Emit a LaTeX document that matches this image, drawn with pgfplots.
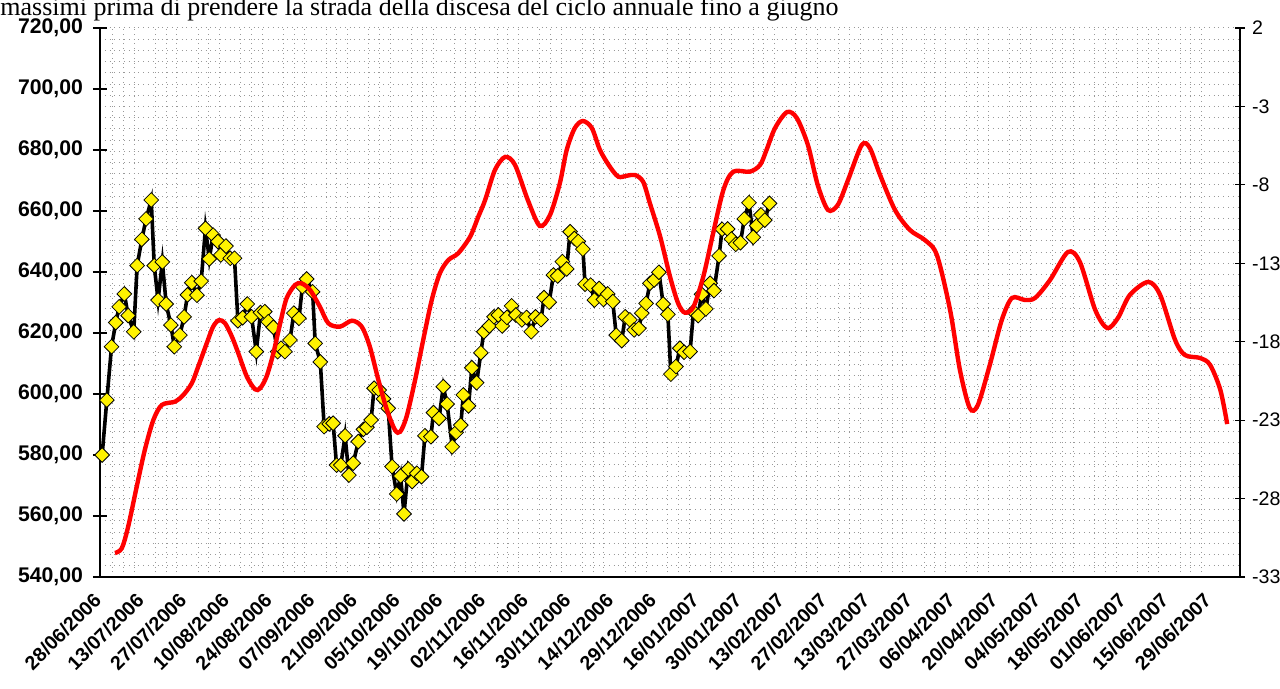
\documentclass[border=0pt]{standalone}
\usepackage{fontspec}
\setmainfont{Liberation Serif}
\newfontfamily\arial{Liberation Sans}
\usepackage{pgfplots}
\pgfplotsset{compat=1.18}
\begin{document}
\begin{tikzpicture}[x=1pt,y=1pt]
\begin{axis}[
  scale only axis, width=570pt, height=274.5pt,
  at={(0,0)}, anchor=south west,
  xmin=-0.5, xmax=266.5, ymin=540, ymax=720,
  axis x line=bottom, axis y line=left,
  axis line style={-, line width=1pt, black},
  xtick={0,10,...,260},
  xticklabels={28/06/2006,13/07/2006,27/07/2006,10/08/2006,24/08/2006,07/09/2006,21/09/2006,05/10/2006,19/10/2006,02/11/2006,16/11/2006,30/11/2006,14/12/2006,29/12/2006,16/01/2007,30/01/2007,13/02/2007,27/02/2007,13/03/2007,27/03/2007,06/04/2007,20/04/2007,04/05/2007,18/05/2007,01/06/2007,15/06/2007,29/06/2007},
  x tick label style={font=\arial\bfseries\fontsize{9.8}{12}\selectfont, rotate=45, anchor=north east, inner sep=1pt, xshift=-5pt, yshift=2pt},
  x tick style={draw=none},
  minor x tick num=3,
  ytick={540,560,...,720},
  minor ytick={540,543.6735,...,720},
  y tick label style={font=\arial\bfseries\fontsize{10.6}{12}\selectfont, xshift=-1.5pt},
  yticklabel style={/pgf/number format/fixed, /pgf/number format/fixed zerofill, /pgf/number format/precision=2, /pgf/number format/use comma, /pgf/number format/1000 sep={}, /pgf/number format/assume math mode=true},
  y tick style={black, line width=0.8pt},
  major tick length=7pt, minor tick length=0pt, tick align=center,
  grid=minor,
  minor grid style={dotted, black!40, line width=0.5pt},
]
\addplot[black, line width=1.8pt, mark=square*, mark size=2.6pt, mark options={rotate=45, fill=yellow, draw=black, line width=0.4pt, solid}] coordinates {
(0.0,580.0)(1.1,598.0)(2.2,615.5)(3.2,623.4)(4.0,628.6)(5.2,632.8)(6.1,625.7)(7.4,620.4)(8.2,642.1)(9.3,650.7)
(10.3,657.4)(11.5,663.6)(12.2,642.1)(13.1,630.8)(14.1,643.3)(15.0,629.5)(16.1,622.6)(16.9,615.5)(18.2,619.3)(19.2,625.3)
(20.0,632.5)(21.0,636.5)(22.2,632.4)(23.2,637.0)(24.2,654.3)(25.1,644.3)(26.0,652.1)(27.1,650.0)(27.8,645.6)(29.0,648.5)
(30.0,644.5)(31.0,644.5)(31.8,624.0)(32.9,625.0)(34.0,629.5)(35.0,625.3)(36.1,613.9)(37.1,626.7)(38.1,627.0)(38.9,623.7)
(40.1,621.9)(41.1,613.9)(41.9,615.0)(42.8,613.9)(44.0,617.7)(44.9,626.5)(46.1,624.8)(46.9,635.2)(47.9,637.7)(49.3,633.5)
(49.9,616.6)(51.1,610.5)(52.0,589.3)(53.2,590.2)(54.1,590.4)(54.9,576.7)(55.9,576.7)(56.9,586.3)(57.8,573.4)(58.8,577.3)
(60.0,584.4)(61.2,588.4)(62.0,589.1)(63.0,591.5)(63.7,601.9)(64.9,601.3)(65.9,598.4)(67.0,595.3)(67.9,576.2)(69.0,567.2)
(69.9,573.1)(70.7,560.7)(71.7,575.4)(72.6,571.3)(73.7,574.0)(74.8,572.9)(75.6,586.3)(77.0,586.0)(77.6,593.9)(78.9,592.0)
(79.9,602.4)(80.8,596.7)(82.0,582.7)(82.9,587.4)(84.0,589.8)(84.6,599.7)(85.8,596.1)(86.6,608.6)(87.7,603.7)(88.7,613.5)
(89.4,620.4)(90.7,622.3)(91.8,625.3)(92.8,625.9)(93.7,622.3)(94.8,625.1)(95.9,628.9)(96.9,625.9)(98.3,624.3)(99.4,625.1)
(100.5,620.4)(101.5,625.3)(102.8,624.4)(103.5,631.6)(104.7,630.1)(105.7,639.0)(106.7,638.7)(107.8,643.4)(108.8,641.0)(109.6,653.2)
(110.6,651.0)(111.5,650.0)(112.6,647.5)(113.1,636.0)(114.4,635.7)(115.3,630.8)(116.4,634.6)(117.4,631.0)(118.4,632.8)(119.6,630.3)
(120.4,619.3)(121.7,617.5)(122.5,625.3)(123.6,624.3)(124.6,621.0)(125.7,621.5)(126.4,626.5)(127.4,629.7)(128.3,636.3)(129.3,637.4)
(130.4,639.9)(131.4,629.5)(132.5,626.1)(133.2,606.5)(134.4,609.0)(135.3,615.0)(136.3,613.7)(137.7,613.9)(138.5,627.0)(139.6,625.7)
(140.4,632.7)(141.4,627.9)(142.4,636.3)(143.3,633.9)(144.5,645.3)(145.2,654.0)(146.5,654.1)(147.4,650.8)(148.4,649.1)(149.5,649.6)
(150.4,657.4)(151.5,662.7)(152.5,651.4)(153.3,655.2)(154.3,658.7)(155.2,657.0)(156.3,662.5)
};
\end{axis}
\begin{axis}[
  scale only axis, width=570pt, height=274.5pt,
  at={(0,0)}, anchor=south west,
  xmin=-0.5, xmax=266.5, ymin=-33, ymax=2,
  axis x line=none, axis y line=right,
  axis line style={-, line width=1pt, black},
  ytick={-33,-28,...,2},
  y tick label style={font=\arial\fontsize{9.8}{11}\selectfont, /pgf/number format/assume math mode=true},
  y tick style={black, line width=0.6pt},
  major tick length=5pt, tick align=center,
]
\addplot[red, line width=2.2pt, smooth] coordinates {
(3.0,-31.47)(4.6,-31.17)(6.1,-29.79)(8.1,-27.24)(10.0,-24.90)(12.0,-22.99)(14.0,-22.03)(17.1,-21.82)(19.0,-21.40)(21.0,-20.65)
(22.5,-19.59)(24.5,-18.10)(26.0,-17.04)(27.4,-16.62)(28.8,-16.83)(30.4,-17.68)(31.9,-18.74)(33.9,-20.23)(35.8,-21.03)(37.0,-20.97)
(38.5,-20.23)(40.1,-18.74)(41.7,-16.83)(43.2,-15.23)(45.2,-14.38)(46.7,-14.28)(48.7,-14.70)(51.0,-15.77)(53.0,-16.83)(55.7,-17.04)
(58.5,-16.66)(60.8,-17.04)(62.7,-18.32)(64.7,-20.44)(66.7,-22.35)(68.6,-23.63)(69.8,-23.74)(71.3,-22.78)(73.3,-20.44)(75.2,-17.89)
(77.2,-15.34)(79.1,-13.64)(81.1,-12.79)(83.4,-12.36)(86.2,-11.30)(88.1,-10.03)(89.7,-8.97)(92.0,-7.05)(94.4,-6.22)(96.7,-6.73)
(99.7,-8.97)(102.5,-10.62)(104.9,-9.92)(107.2,-7.90)(108.8,-5.78)(110.7,-4.38)(112.6,-3.93)(114.7,-4.38)(116.6,-5.78)(118.9,-6.84)
(120.9,-7.48)(122.9,-7.42)(124.8,-7.37)(126.7,-7.80)(128.3,-9.18)(130.7,-11.30)(133.0,-13.85)(134.9,-15.55)(136.5,-16.15)(138.5,-15.77)
(140.8,-13.85)(143.1,-11.09)(145.5,-8.33)(147.8,-7.16)(151.7,-7.16)(154.1,-6.73)(155.6,-5.78)(157.6,-4.38)(160.4,-3.36)(162.7,-3.74)
(165.3,-5.46)(167.6,-8.01)(170.0,-9.60)(172.3,-9.28)(174.7,-7.69)(177.9,-5.46)(179.8,-5.65)(182.2,-7.37)(185.7,-9.60)(189.2,-10.88)
(192.7,-11.52)(195.5,-12.47)(198.6,-15.98)(200.9,-19.80)(203.2,-22.23)(205.1,-22.04)(207.9,-19.48)(210.7,-16.62)(213.1,-15.21)(216.1,-15.34)
(218.5,-15.21)(222.0,-14.07)(226.2,-12.28)(229.0,-12.92)(232.6,-15.98)(235.4,-17.13)(237.9,-16.49)(240.7,-15.02)(245.0,-14.19)(247.8,-15.02)
(251.3,-17.89)(253.6,-18.85)(257.2,-19.04)(259.5,-19.48)(261.9,-21.08)(263.5,-23.25)
};
\end{axis}
\node[anchor=base west, inner sep=0pt, font=\fontsize{13}{15}\selectfont] at (-50pt,280.5pt) {massimi prima di prendere la strada della discesa del ciclo annuale fino a giugno};
\pgfresetboundingbox
\useasboundingbox (-50pt,-56pt) rectangle (590pt,288.5pt);
\end{tikzpicture}
\end{document}
